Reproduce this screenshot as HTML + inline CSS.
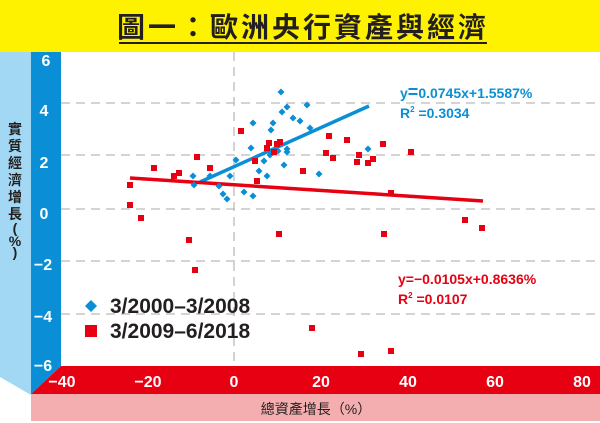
<!DOCTYPE html>
<html><head><meta charset="utf-8"><style>
html,body{margin:0;padding:0;background:#fff;width:600px;height:423px;overflow:hidden}
svg{display:block}
text{font-family:"Liberation Sans","Noto Sans CJK TC",sans-serif}
</style></head><body>
<svg width="600" height="423" viewBox="0 0 600 423">
<rect x="0" y="0" width="600" height="52" fill="#fff200"/>
<text x="303" y="37" text-anchor="middle" font-size="28" font-weight="bold" fill="#231f20" letter-spacing="3" font-family="'Noto Sans CJK TC',sans-serif">圖一：歐洲央行資產與經濟</text>
<line x1="119" y1="43" x2="487" y2="43" stroke="#231f20" stroke-width="2"/>
<polygon points="0,52 31,52 31,395 0,377" fill="#a3d8f4"/>
<polygon points="31,52 61,52 61,366 31,394" fill="#0a8fd6"/>
<polygon points="61,366 600,366 600,394 31,394" fill="#e60012"/>
<rect x="31" y="394" width="569" height="27" fill="#f4aeb0"/>
<g stroke="#bbb" stroke-width="1.3" stroke-dasharray="9,6">
<line x1="61" y1="103" x2="600" y2="103"/><line x1="61" y1="155" x2="600" y2="155"/>
<line x1="61" y1="209" x2="600" y2="209"/><line x1="61" y1="261" x2="600" y2="261"/>
<line x1="61" y1="314" x2="600" y2="314"/><line x1="234" y1="52" x2="234" y2="366"/>
</g>
<g fill="#fff" font-size="16" font-weight="bold" text-anchor="middle">
<text x="46" y="66">6</text><text x="44" y="116">4</text><text x="44" y="168">2</text><text x="44" y="219">0</text><text x="43" y="270">−2</text><text x="43" y="322">−4</text><text x="43" y="371">−6</text>
<text x="62" y="387">−40</text><text x="148" y="387">−20</text><text x="234" y="387">0</text><text x="321" y="387">20</text><text x="408" y="387">40</text><text x="495" y="387">60</text><text x="582" y="387">80</text>
</g>
<text x="316" y="414" text-anchor="middle" font-size="14" fill="#231f20" font-family="'Noto Sans CJK TC',sans-serif">總資產增長（%）</text>
<g font-size="14" fill="#231f20" font-weight="bold" text-anchor="middle" font-family="'Noto Sans CJK TC',sans-serif">
<text x="15" y="134">實</text><text x="15" y="151">質</text><text x="15" y="168">經</text><text x="15" y="185">濟</text><text x="15" y="202">增</text><text x="15" y="219">長</text><text x="15" y="233">(</text><text x="15" y="246">%</text><text x="15" y="257">)</text>
</g>
<line x1="200" y1="182" x2="369" y2="106" stroke="#0a8fd6" stroke-width="3.5"/>
<line x1="130" y1="178" x2="483" y2="201" stroke="#e60012" stroke-width="3.5"/>
<g fill="#0a8fd6">
<path d="M0,-3.5L3.5,0L0,3.5L-3.5,0Z" transform="translate(281,92)"/>
<path d="M0,-3.5L3.5,0L0,3.5L-3.5,0Z" transform="translate(253,123)"/><path d="M0,-3.5L3.5,0L0,3.5L-3.5,0Z" transform="translate(273,123)"/>
<path d="M0,-3.5L3.5,0L0,3.5L-3.5,0Z" transform="translate(271,130)"/><path d="M0,-3.5L3.5,0L0,3.5L-3.5,0Z" transform="translate(282,112)"/>
<path d="M0,-3.5L3.5,0L0,3.5L-3.5,0Z" transform="translate(287,107)"/><path d="M0,-3.5L3.5,0L0,3.5L-3.5,0Z" transform="translate(307,105)"/>
<path d="M0,-3.5L3.5,0L0,3.5L-3.5,0Z" transform="translate(293,118)"/><path d="M0,-3.5L3.5,0L0,3.5L-3.5,0Z" transform="translate(300,121)"/>
<path d="M0,-3.5L3.5,0L0,3.5L-3.5,0Z" transform="translate(310,128)"/><path d="M0,-3.5L3.5,0L0,3.5L-3.5,0Z" transform="translate(251,148)"/>
<path d="M0,-3.5L3.5,0L0,3.5L-3.5,0Z" transform="translate(278,151)"/><path d="M0,-3.5L3.5,0L0,3.5L-3.5,0Z" transform="translate(287,149)"/>
<path d="M0,-3.5L3.5,0L0,3.5L-3.5,0Z" transform="translate(287,152)"/><path d="M0,-3.5L3.5,0L0,3.5L-3.5,0Z" transform="translate(270,155)"/>
<path d="M0,-3.5L3.5,0L0,3.5L-3.5,0Z" transform="translate(273,152)"/><path d="M0,-3.5L3.5,0L0,3.5L-3.5,0Z" transform="translate(264,161)"/>
<path d="M0,-3.5L3.5,0L0,3.5L-3.5,0Z" transform="translate(236,160)"/><path d="M0,-3.5L3.5,0L0,3.5L-3.5,0Z" transform="translate(259,171)"/>
<path d="M0,-3.5L3.5,0L0,3.5L-3.5,0Z" transform="translate(267,176)"/><path d="M0,-3.5L3.5,0L0,3.5L-3.5,0Z" transform="translate(284,165)"/>
<path d="M0,-3.5L3.5,0L0,3.5L-3.5,0Z" transform="translate(319,174)"/><path d="M0,-3.5L3.5,0L0,3.5L-3.5,0Z" transform="translate(368,149)"/>
<path d="M0,-3.5L3.5,0L0,3.5L-3.5,0Z" transform="translate(230,176)"/><path d="M0,-3.5L3.5,0L0,3.5L-3.5,0Z" transform="translate(193,176)"/>
<path d="M0,-3.5L3.5,0L0,3.5L-3.5,0Z" transform="translate(194,185)"/><path d="M0,-3.5L3.5,0L0,3.5L-3.5,0Z" transform="translate(210,176)"/>
<path d="M0,-3.5L3.5,0L0,3.5L-3.5,0Z" transform="translate(219,186)"/><path d="M0,-3.5L3.5,0L0,3.5L-3.5,0Z" transform="translate(223,194)"/>
<path d="M0,-3.5L3.5,0L0,3.5L-3.5,0Z" transform="translate(227,199)"/><path d="M0,-3.5L3.5,0L0,3.5L-3.5,0Z" transform="translate(244,192)"/>
<path d="M0,-3.5L3.5,0L0,3.5L-3.5,0Z" transform="translate(253,196)"/>
</g>
<g fill="#e60012">
<rect x="127" y="182" width="6" height="6"/><rect x="127" y="202" width="6" height="6"/><rect x="138" y="215" width="6" height="6"/>
<rect x="151" y="165" width="6" height="6"/><rect x="171" y="173" width="6" height="6"/><rect x="176" y="170" width="6" height="6"/>
<rect x="194" y="154" width="6" height="6"/><rect x="207" y="165" width="6" height="6"/><rect x="186" y="237" width="6" height="6"/>
<rect x="192" y="267" width="6" height="6"/><rect x="238" y="128" width="6" height="6"/><rect x="252" y="158" width="6" height="6"/>
<rect x="254" y="178" width="6" height="6"/><rect x="264" y="145" width="6" height="6"/><rect x="266" y="140" width="6" height="6"/>
<rect x="274" y="141" width="6" height="6"/><rect x="277" y="139" width="6" height="6"/><rect x="271" y="149" width="6" height="6"/>
<rect x="276" y="231" width="6" height="6"/><rect x="300" y="168" width="6" height="6"/><rect x="323" y="150" width="6" height="6"/>
<rect x="326" y="133" width="6" height="6"/><rect x="330" y="155" width="6" height="6"/><rect x="344" y="137" width="6" height="6"/>
<rect x="354" y="159" width="6" height="6"/><rect x="356" y="152" width="6" height="6"/><rect x="365" y="160" width="6" height="6"/>
<rect x="370" y="156" width="6" height="6"/><rect x="380" y="141" width="6" height="6"/><rect x="381" y="231" width="6" height="6"/>
<rect x="388" y="190" width="6" height="6"/><rect x="408" y="149" width="6" height="6"/><rect x="462" y="217" width="6" height="6"/>
<rect x="479" y="225" width="6" height="6"/><rect x="309" y="325" width="6" height="6"/><rect x="358" y="351" width="6" height="6"/>
<rect x="388" y="348" width="6" height="6"/>
</g>
<g font-size="14" font-weight="bold" fill="#0a8fd6">
<text x="400" y="98">y<tspan font-size="18">=</tspan>0.0745x+1.5587%</text>
<text x="400" y="118">R<tspan font-size="8" dy="-6">2</tspan><tspan dy="6"> =0.3034</tspan></text>
</g>
<g font-size="14" font-weight="bold" fill="#e60012">
<text x="398" y="284">y=−0.0105x+0.8636%</text>
<text x="398" y="304">R<tspan font-size="8" dy="-6">2</tspan><tspan dy="6"> =0.0107</tspan></text>
</g>
<path d="M0,-6L6,0L0,6L-6,0Z" transform="translate(91,306)" fill="#0a8fd6"/>
<rect x="85" y="325" width="12" height="12" fill="#e60012"/>
<g font-size="21" font-weight="bold" fill="#231f20">
<text x="110" y="313">3/2000–3/2008</text>
<text x="110" y="338">3/2009–6/2018</text>
</g>
</svg>
</body></html>
